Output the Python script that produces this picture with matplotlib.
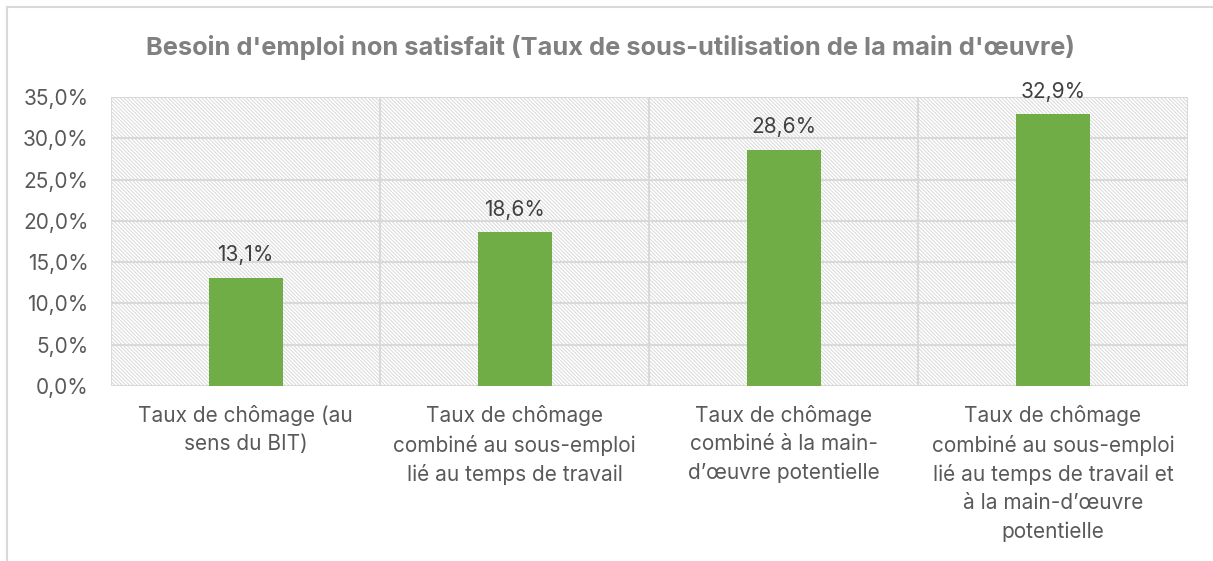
import numpy as np
import matplotlib
matplotlib.use("Agg")
import matplotlib.pyplot as plt
from matplotlib.patches import Rectangle
from matplotlib.lines import Line2D
from matplotlib.ticker import FuncFormatter

plt.rcParams['font.family'] = ['Inter', 'DejaVu Sans']
plt.rcParams['hatch.color'] = '#D9D9D9'
plt.rcParams['hatch.linewidth'] = 0.7

title = "Besoin d'emploi non satisfait (Taux de sous-utilisation de la main d'œuvre)"
categories = [
    "Taux de chômage (au\nsens du BIT)",
    "Taux de chômage\ncombiné au sous-emploi\nlié au temps de travail",
    "Taux de chômage\ncombiné à la main-\nd’œuvre potentielle",
    "Taux de chômage\ncombiné au sous-emploi\nlié au temps de travail et\nà la main-d’œuvre\npotentielle",
]
values = [13.1, 18.6, 28.6, 32.9]
yticks = [0, 5, 10, 15, 20, 25, 30, 35]

grid_col = '#D9D9D9'

fig = plt.figure(figsize=(12.13, 5.61), dpi=100)
ax = fig.add_axes([0.0915, 0.312, 0.8875, 0.515])

x = np.arange(len(categories))
ax.set_xlim(-0.5, len(categories) - 0.5)
ax.set_ylim(0, 35)

# hatched plot background
bg = Rectangle((0, 0), 1, 1, transform=ax.transAxes, facecolor='white',
               edgecolor=grid_col, hatch='\\' * 9, lw=0, zorder=0)
ax.add_patch(bg)

for y in yticks:
    ax.axhline(y, color=grid_col, lw=1.5, zorder=1)
for b in np.arange(-0.5, len(categories), 1.0):
    ax.axvline(b, color=grid_col, lw=1.5, zorder=1)

ax.bar(x, values, width=0.275, color='#70AD47', zorder=2)

for xi, v in zip(x, values):
    ax.annotate(("%.1f%%" % v).replace('.', ','), (xi, v), xytext=(0, 9),
                textcoords='offset points', ha='center', va='bottom',
                fontsize=15, color='#404040')

for s in ax.spines.values():
    s.set_visible(False)

ax.set_yticks(yticks)
ax.yaxis.set_major_formatter(FuncFormatter(lambda v, p: ("%.1f%%" % v).replace('.', ',')))
ax.set_xticks(x)
ax.set_xticklabels(categories, linespacing=1.5)
ax.tick_params(axis='both', length=0, labelsize=15, labelcolor='#595959')
ax.tick_params(axis='y', pad=16)
ax.tick_params(axis='x', pad=14)

fig.text(0.503, 0.916, title, ha='center', va='center', fontsize=18.3,
         fontweight='bold', color='#808080')

# chart frame (left and top edges)
fig.add_artist(Line2D([7 / 1213, 7 / 1213], [0, 1 - 7 / 561], color=grid_col, lw=1.5,
                      transform=fig.transFigure))
fig.add_artist(Line2D([7 / 1213, 1], [1 - 7 / 561, 1 - 7 / 561], color=grid_col, lw=1.5,
                      transform=fig.transFigure))

fig.savefig("out.png", dpi=100)
